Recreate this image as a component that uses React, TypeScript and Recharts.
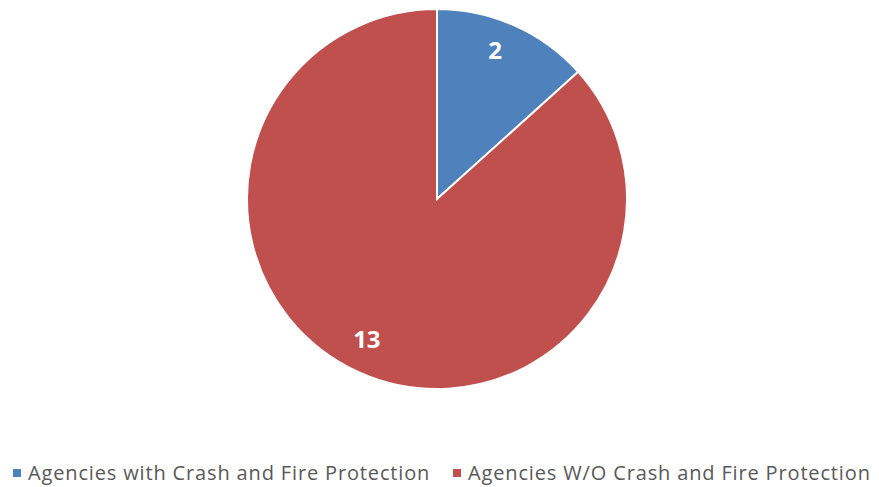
import { PieChart, Pie, Cell } from "recharts";

const categories = [
  "Agencies with Crash and Fire Protection",
  "Agencies W/O Crash and Fire Protection",
];
const counts = [2, 13];
const colors = ["#4F81BD", "#C0504D"];
const legendLeft = [13, 453];

const data = categories.map((name, i) => ({ name, value: counts[i] }));

const RADIAN = Math.PI / 180;

const renderLabel = (props: any) => {
  const { cx, cy, midAngle, outerRadius, value } = props;
  const r = outerRadius * 0.83;
  const x = cx + r * Math.cos(-midAngle * RADIAN) - 6;
  const y = cy + r * Math.sin(-midAngle * RADIAN) - 5;
  return (
    <text
      x={x}
      y={y}
      fill="#fff"
      textAnchor="middle"
      dominantBaseline="central"
      fontSize={24}
      fontWeight="bold"
      fontFamily="'Open Sans', sans-serif"
    >
      {value}
    </text>
  );
};

function App() {
  return (
    <div
      style={{
        position: "absolute",
        left: 0,
        top: 0,
        width: 879,
        height: 487,
        background: "#fff",
      }}
    >
      <PieChart width={879} height={487} margin={{ top: 0, right: 0, bottom: 0, left: 0 }}>
        <Pie
          data={data}
          dataKey="value"
          nameKey="name"
          cx={437}
          cy={199}
          outerRadius={190}
          startAngle={90}
          endAngle={-270}
          stroke="#fff"
          strokeWidth={2}
          label={renderLabel}
          labelLine={false}
          isAnimationActive={false}
        >
          {data.map((_d, i) => (
            <Cell key={i} fill={colors[i]} />
          ))}
        </Pie>
      </PieChart>
      {data.map((d, i) => (
        <div
          key={d.name}
          style={{
            position: "absolute",
            left: legendLeft[i],
            top: 458,
            height: 28,
            display: "flex",
            alignItems: "center",
            fontFamily: "'Open Sans', sans-serif",
            fontSize: 20,
            letterSpacing: 0.85,
            color: "#595959",
            whiteSpace: "nowrap",
          }}
        >
          <span
            style={{
              display: "inline-block",
              width: 8,
              height: 8,
              background: colors[i],
              marginRight: 7,
              marginTop: 2,
            }}
          />
          {d.name}
        </div>
      ))}
    </div>
  );
}

export default App;
